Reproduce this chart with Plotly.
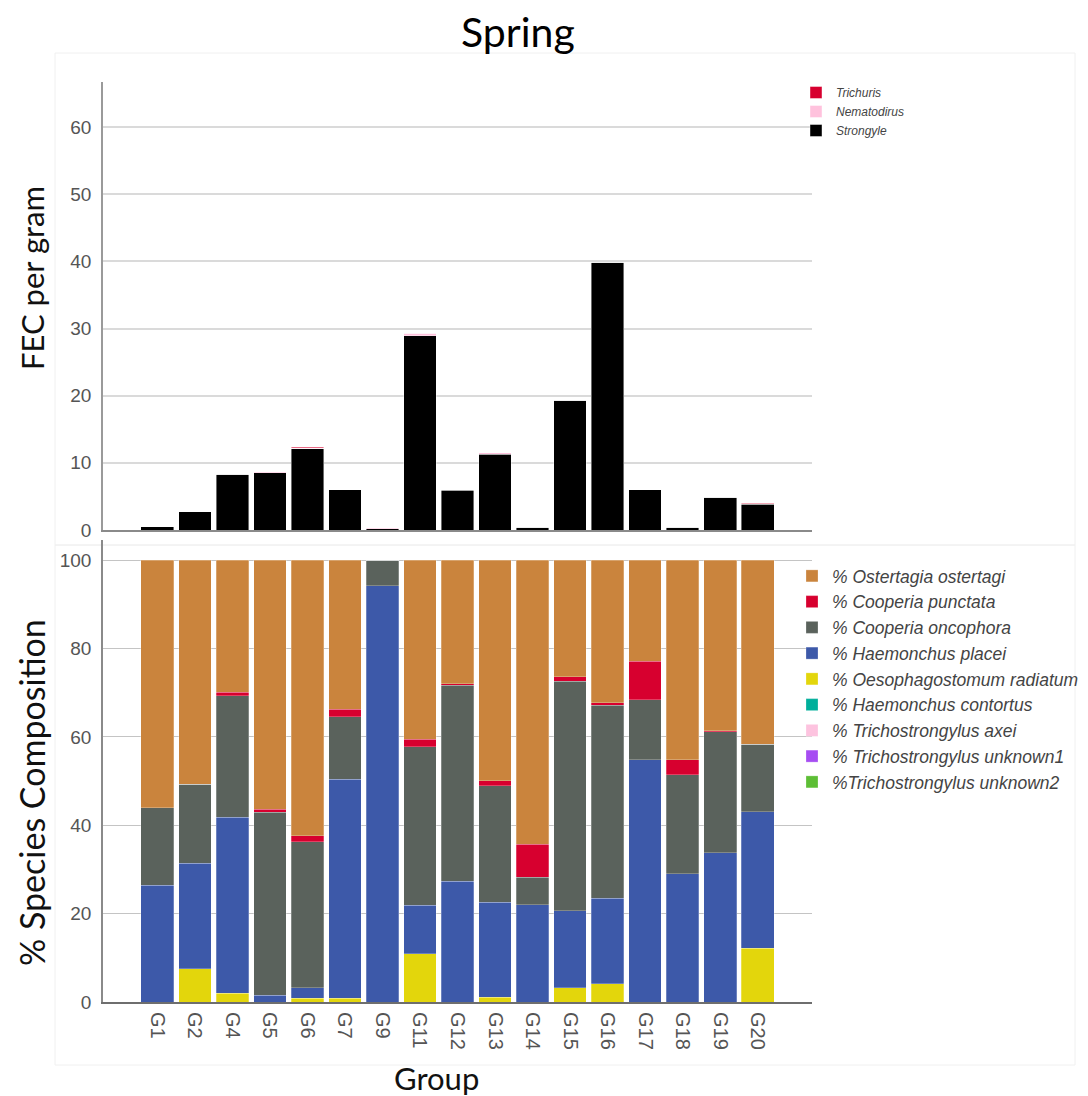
import plotly.graph_objects as go

# Groups sampled in spring
groups = ["G1", "G2", "G4", "G5", "G6", "G7", "G9", "G11", "G12", "G13",
          "G14", "G15", "G16", "G17", "G18", "G19", "G20"]

# Faecal egg counts (eggs per gram)
fec_strongyle = [0.5, 2.7, 8.3, 8.5, 12.1, 6.0, 0.2, 28.9, 5.9, 11.3,
                 0.4, 19.3, 39.9, 6.0, 0.4, 4.9, 3.8]
fec_nematodirus = [0, 0, 0, 0.15, 0.1, 0, 0.1, 0.4, 0.1, 0.2,
                   0, 0, 0, 0, 0, 0, 0.1]
fec_trichuris = [0, 0, 0, 0, 0.1, 0, 0, 0, 0, 0,
                 0, 0, 0, 0, 0, 0, 0.1]

# Larval culture species composition (%)
pct_oesophagostomum = [0, 7.5, 2.0, 0, 0.8, 0.9, 0, 10.9, 0, 1.1,
                       0, 3.2, 4.1, 0, 0, 0, 12.2]
pct_h_placei = [26.4, 23.9, 39.8, 1.5, 2.4, 49.5, 94.2, 11.0, 27.3, 21.5,
                22.0, 17.5, 19.4, 54.8, 29.0, 33.8, 30.9]
pct_c_oncophora = [17.6, 17.9, 27.5, 41.5, 33.1, 14.2, 5.8, 35.9, 44.4, 26.4,
                   6.3, 51.9, 43.7, 13.6, 22.4, 27.4, 15.3]
pct_c_punctata = [0, 0, 0.8, 0.6, 1.3, 1.7, 0, 1.7, 0.3, 1.1,
                  7.4, 1.0, 0.6, 8.8, 3.4, 0.2, 0]
pct_ostertagia = [56.0, 50.7, 29.9, 56.4, 62.4, 33.7, 0, 40.5, 28.0, 49.9,
                  64.3, 26.4, 32.2, 22.8, 45.2, 38.6, 41.6]
pct_h_contortus = [0] * 17
pct_t_axei = [0] * 17
pct_t_unknown1 = [0] * 17
pct_t_unknown2 = [0] * 17

W, H = 1088, 1096


def px_x(p):
    return p / W


def px_y(p):
    return 1 - p / H


fig = go.Figure()

# --- Upper panel: FEC stacked bars ---
fec_series = [
    ("Strongyle", fec_strongyle, "#000000"),
    ("Nematodirus", fec_nematodirus, "#FFC2DD"),
    ("Trichuris", fec_trichuris, "#D7002F"),
]
for name, vals, col in fec_series:
    fig.add_trace(go.Bar(
        x=groups, y=vals, name=name, xaxis="x", yaxis="y",
        marker=dict(color=col, line=dict(color="rgba(255,255,255,0.7)", width=0.6)),
        legend="legend",
    ))

# --- Lower panel: species composition stacked bars ---
comp_series = [
    ("%Trichostrongylus unknown2", pct_t_unknown2, "#5DBE35"),
    ("% Trichostrongylus unknown1", pct_t_unknown1, "#A64DF2"),
    ("% Trichostrongylus axei", pct_t_axei, "#FDC3DF"),
    ("% Haemonchus contortus", pct_h_contortus, "#00AF9B"),
    ("% Oesophagostomum radiatum", pct_oesophagostomum, "#E3D60C"),
    ("% Haemonchus placei", pct_h_placei, "#3D59A9"),
    ("% Cooperia oncophora", pct_c_oncophora, "#5A625C"),
    ("% Cooperia punctata", pct_c_punctata, "#D7002F"),
    ("% Ostertagia ostertagi", pct_ostertagia, "#CA843D"),
]
for name, vals, col in comp_series:
    fig.add_trace(go.Bar(
        x=groups, y=vals, name=name, xaxis="x2", yaxis="y2",
        marker=dict(color=col, line=dict(color="rgba(255,255,255,0.5)", width=0.5)),
        legend="legend2",
    ))

xdom = [px_x(103), px_x(812)]
xrange = [-1.45, 17.45]
tick_font = dict(family="Liberation Sans, Arial, sans-serif", size=19, color="#555555")
title_font = dict(family="Lato, Open Sans, sans-serif", size=31, color="#111111")

fig.update_layout(
    width=W, height=H,
    margin=dict(l=0, r=0, t=0, b=0, autoexpand=False),
    paper_bgcolor="white", plot_bgcolor="white",
    barmode="stack", bargap=0.125,
    showlegend=True,
    xaxis=dict(domain=xdom, range=xrange, anchor="y", showticklabels=False,
               showline=True, linecolor="#8a8a8a", linewidth=2, ticks="",
               showgrid=False, zeroline=False, type="category"),
    yaxis=dict(domain=[px_y(530), px_y(82)], range=[0, 66.7], anchor="x",
               tickvals=[0, 10, 20, 30, 40, 50, 60], tickfont=tick_font,
               showline=True, linecolor="#9a9a9a", linewidth=1.5, ticks="",
               ticklabelstandoff=6,
               showgrid=True, gridcolor="#dadada", gridwidth=2, zeroline=False),
    xaxis2=dict(domain=xdom, range=xrange, anchor="y2", tickangle=90,
                tickfont=dict(family="Liberation Sans, Arial, sans-serif", size=20, color="#555555"),
                showline=True, linecolor="#6e6e6e", linewidth=2, ticks="",
                ticklabelstandoff=4,
                showgrid=False, zeroline=False, type="category"),
    yaxis2=dict(domain=[px_y(1002), px_y(540)], range=[0, 104.6], anchor="x2",
                tickvals=[0, 20, 40, 60, 80, 100], tickfont=tick_font,
                showline=True, linecolor="#8a8a8a", linewidth=1.5, ticks="",
                ticklabelstandoff=6,
                showgrid=True, gridcolor="#c4c4c4", gridwidth=1.3, zeroline=False),
    legend=dict(x=px_x(796), y=px_y(78), xanchor="left", yanchor="top",
                traceorder="reversed", bgcolor="rgba(0,0,0,0)",
                font=dict(family="Liberation Sans, Arial, sans-serif", size=12,
                          color="#444444", style="italic"),
                itemwidth=30, tracegroupgap=0),
    legend2=dict(x=px_x(792), y=px_y(558), xanchor="left", yanchor="top",
                 traceorder="reversed", bgcolor="rgba(0,0,0,0)",
                 font=dict(family="Liberation Sans, Arial, sans-serif", size=17.5,
                           color="#444444", style="italic"),
                 itemwidth=30, tracegroupgap=0),
    annotations=[
        dict(text="Spring", x=px_x(518), y=px_y(32), xref="paper", yref="paper",
             showarrow=False, xanchor="center", yanchor="middle",
             font=dict(family="Lato, Open Sans, sans-serif", size=41, color="#000000")),
        dict(text="FEC per gram", x=px_x(32), y=px_y(278), xref="paper", yref="paper",
             showarrow=False, textangle=-90, xanchor="center", yanchor="middle",
             font=title_font),
        dict(text="% Species Composition", x=px_x(31), y=px_y(793), xref="paper", yref="paper",
             showarrow=False, textangle=-90, xanchor="center", yanchor="middle",
             font=dict(family="Lato, Open Sans, sans-serif", size=34, color="#111111")),
        dict(text="Group", x=px_x(436), y=px_y(1078), xref="paper", yref="paper",
             showarrow=False, xanchor="center", yanchor="middle",
             font=title_font),
    ],
    shapes=[
        # faint frames around the two chart panels
        dict(type="rect", xref="paper", yref="paper",
             x0=px_x(55), x1=px_x(1075), y0=px_y(545), y1=px_y(53),
             line=dict(color="#f0f0f0", width=1), fillcolor="rgba(0,0,0,0)", layer="below"),
        dict(type="rect", xref="paper", yref="paper",
             x0=px_x(55), x1=px_x(1075), y0=px_y(1065), y1=px_y(545),
             line=dict(color="#f0f0f0", width=1), fillcolor="rgba(0,0,0,0)", layer="below"),
    ],
)

fig.write_html("out.html")
